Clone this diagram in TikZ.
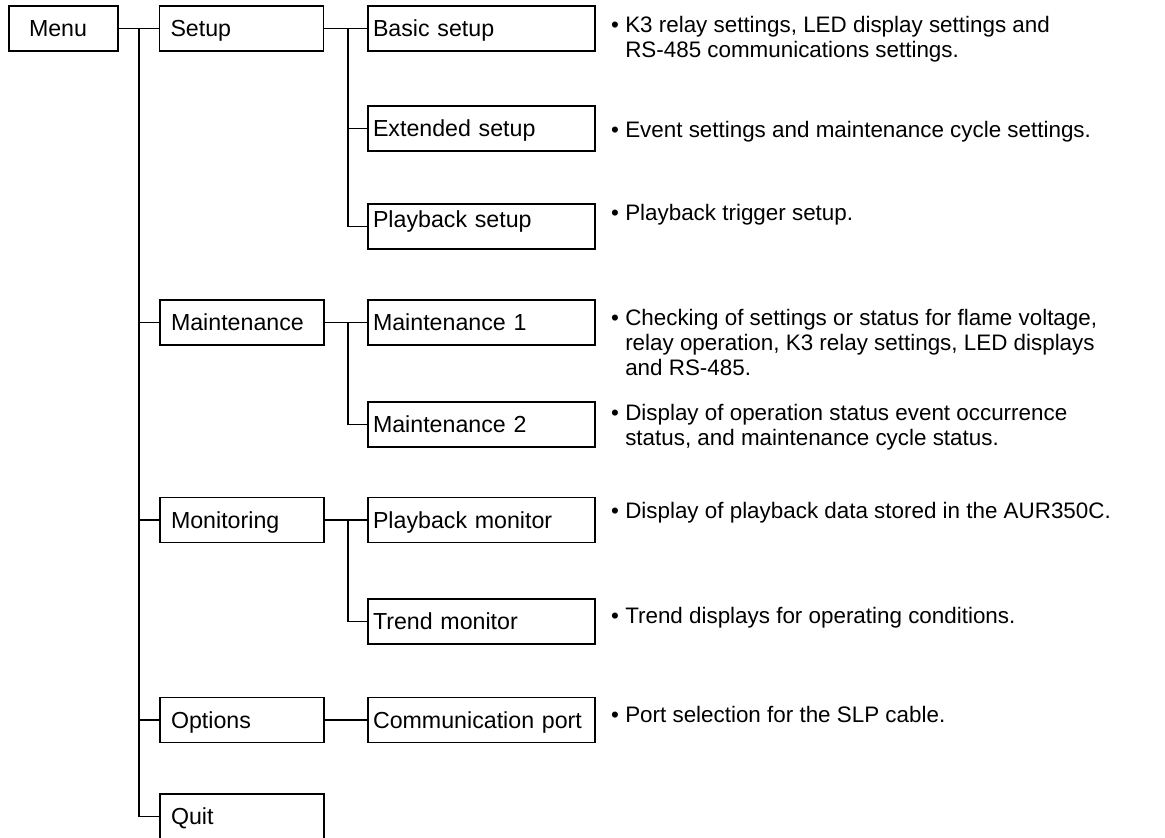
\documentclass[tikz,border=0pt]{standalone}
\usepackage{fontspec}
\setmainfont{Liberation Sans}
\usetikzlibrary{positioning}

\tikzset{
  box/.style={draw, line width=1.6pt, rectangle, minimum height=45pt,
    align=left, text height=17pt, text depth=1pt, inner ysep=0pt,
    font=\fontsize{23.2}{25}\selectfont},
  menubox/.style={box, text width=69pt, inner xsep=20pt},
  topbox/.style={box, text width=142pt, inner xsep=11pt},
  subbox/.style={box, text width=217pt, inner xsep=5pt},
  note/.style={anchor=base west, align=left, inner sep=0pt,
    font=\fontsize{22.4}{25}\selectfont},
  link/.style={line width=1.6pt}
}
\newcommand{\hang}{\hphantom{• }}

\begin{document}
\begin{tikzpicture}[x=1pt, y=-1pt]
\useasboundingbox (0,0) rectangle (1165,838);
% menu and first level
\node[menubox] (menu) at (63.5,28.5) {Menu};
\node[topbox] (setup) at (241.5,28.5) {Setup};
\node[topbox] (maint) at (242,322.5) {Maintenance};
\node[topbox] (monit) at (242,520) {Monitoring};
\node[topbox] (opts) at (242,720) {Options};
\node[topbox] (quit) at (242,816.5) {Quit};
% second level
\node[subbox] (basic) at (481.5,28.5) {Basic setup};
\node[subbox] (ext) at (481.5,128.5) {Extended setup};
\node[subbox, text height=12pt, text depth=11pt] (pbset) at (481.5,226.5) {Playback setup};
\node[subbox] (mt1) at (481.5,322.5) {Maintenance 1};
\node[subbox] (mt2) at (481.5,424.5) {Maintenance 2};
\node[subbox] (pbmon) at (481.5,520) {Playback monitor};
\node[subbox] (trend) at (481.5,621.5) {Trend monitor};
\node[subbox] (comm) at (481.5,720) {Communication port};
% descriptions (base = last line)
\node[note] (dbasic) at (611,57) {• K3 relay settings, LED display settings and\\\hang RS-485 communications settings.};
\node[note] (dext) at (611,137) {• Event settings and maintenance cycle settings.};
\node[note] (dpbset) at (611,220) {• Playback trigger setup.};
\node[note] (dmt1) at (611,375) {• Checking of settings or status for flame voltage,\\\hang relay operation, K3 relay settings, LED displays\\\hang and RS-485.};
\node[note] (dmt2) at (611,445) {• Display of operation status event occurrence\\\hang status, and maintenance cycle status.};
\node[note] (dpbmon) at (611,518) {• Display of playback data stored in the AUR350C.};
\node[note] (dtrend) at (611,623) {• Trend displays for operating conditions.};
\node[note] (dcomm) at (611,722) {• Port selection for the SLP cable.};
% trunk
\coordinate (t0) at (139,28.5);
\draw[link] (menu.east) -- (setup.west);
\draw[link] (t0) |- (quit.west);
\draw[link] (t0 |- maint.west) -- (maint.west);
\draw[link] (t0 |- monit.west) -- (monit.west);
\draw[link] (t0 |- opts.west) -- (opts.west);
% setup branch
\coordinate (s0) at (348,28.5);
\draw[link] (setup.east) -- (basic.west);
\draw[link] (s0) |- (pbset.west);
\draw[link] (s0 |- ext.west) -- (ext.west);
% maintenance branch
\coordinate (s1) at (348,322.5);
\draw[link] (maint.east) -- (mt1.west);
\draw[link] (s1) |- (mt2.west);
% monitoring branch
\coordinate (s2) at (348,520);
\draw[link] (monit.east) -- (pbmon.west);
\draw[link] (s2) |- (trend.west);
% options branch
\draw[link] (opts.east) -- (comm.west);
\end{tikzpicture}
\end{document}
